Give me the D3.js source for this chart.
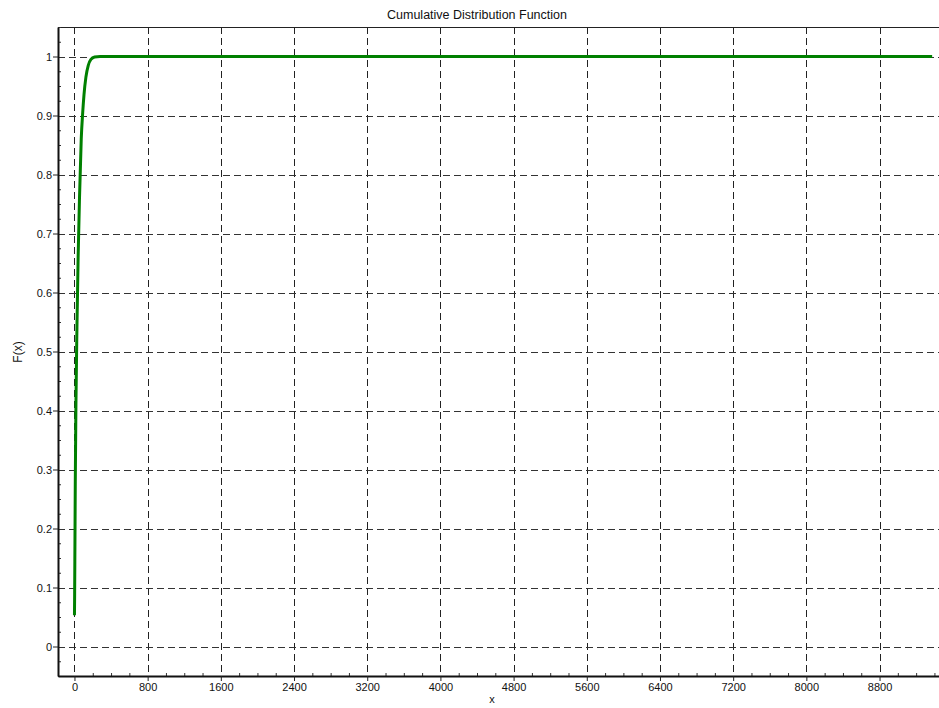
<!DOCTYPE html>
<html>
<head>
<meta charset="utf-8">
<script src="https://cdn.jsdelivr.net/npm/d3@7/dist/d3.min.js"></script>
<style>
  html, body { margin: 0; padding: 0; background: #fff; }
  svg { display: block; }
  text { font-family: "Liberation Sans", Arial, sans-serif; }
</style>
</head>
<body>
<svg id="chart" width="939" height="708"></svg>
<script>
// ---- data ----
const xValues = [0, 2, 5, 9, 16, 27, 40, 55, 74, 90, 104, 125, 151, 180, 220, 280, 1000, 3000, 5000, 7000, 9375];
const fValues = [0.053, 0.09, 0.17, 0.28, 0.41, 0.54, 0.66, 0.76, 0.86, 0.905, 0.935, 0.965, 0.985, 0.995, 0.999, 1, 1, 1, 1, 1, 1];
const xMajorTicks = [0, 800, 1600, 2400, 3200, 4000, 4800, 5600, 6400, 7200, 8000, 8800];
const yMajorTicks = [0, 0.1, 0.2, 0.3, 0.4, 0.5, 0.6, 0.7, 0.8, 0.9, 1];
const xMinorStep = 200;
const yMinorStep = 0.025;
const titleText = "Cumulative Distribution Function";
const xLabel = "x";
const yLabel = "F(x)";

// ---- layout ----
const L = 58, T = 27, R = 939, B = 676;
const svg = d3.select("#chart");
const x = d3.scaleLinear().domain([-180, 9450]).range([L, R]);
const y = d3.scaleLinear().domain([-0.05, 1.05]).range([B, T]);

const xMinor = d3.range(-200, 9450, xMinorStep).filter(v => x(v) >= L && x(v) <= R && xMajorTicks.indexOf(v) < 0);
const yMinor = d3.range(-0.05, 1.0501, yMinorStep).map(v => +v.toFixed(3))
  .filter(v => yMajorTicks.every(m => Math.abs(m - v) > 1e-6));

const crisp = v => Math.round(v) + 0.5;

// grid
const grid = svg.append("g");
grid.selectAll("line.vx").data(xMajorTicks).join("line")
  .attr("x1", d => crisp(x(d))).attr("x2", d => crisp(x(d)))
  .attr("y1", T).attr("y2", B)
  .attr("stroke", "#222").attr("stroke-width", 1).attr("stroke-dasharray", "7,4");
grid.selectAll("line.hy").data(yMajorTicks).join("line")
  .attr("x1", L).attr("x2", R)
  .attr("y1", d => crisp(y(d))).attr("y2", d => crisp(y(d)))
  .attr("stroke", "#333").attr("stroke-width", 1).attr("stroke-dasharray", "7,4");

// top border
svg.append("line").attr("x1", L).attr("x2", R).attr("y1", T + 0.5).attr("y2", T + 0.5)
  .attr("stroke", "#222").attr("stroke-width", 1);

// clip
svg.append("clipPath").attr("id", "clip").append("rect")
  .attr("x", L).attr("y", T).attr("width", R - L).attr("height", B - T);

// curve
const pts = xValues.map((v, i) => [v, fValues[i]]);
svg.append("path").datum(pts)
  .attr("clip-path", "url(#clip)")
  .attr("fill", "none").attr("stroke", "#008000").attr("stroke-width", 3)
  .attr("stroke-linejoin", "round")
  .attr("d", d3.line().x(d => x(d[0])).y(d => y(d[1])).curve(d3.curveMonotoneX));

// axes
function styleAxis(g) {
  g.selectAll("text").attr("fill", "#111").style("font-size", "11px")
    .style("font-family", '"Liberation Sans", Arial, sans-serif');
  g.selectAll(".tick line").attr("stroke", "#222");
}
// minor ticks (inward)
const yMinorAxis = svg.append("g").attr("transform", `translate(${L},0)`)
  .call(d3.axisLeft(y).tickValues(yMinor).tickSize(-3).tickFormat(""));
yMinorAxis.select(".domain").remove();
yMinorAxis.selectAll(".tick line").attr("stroke", "#333");
const xMinorAxis = svg.append("g").attr("transform", `translate(0,${B})`)
  .call(d3.axisBottom(x).tickValues(xMinor).tickSize(-3).tickFormat(""));
xMinorAxis.select(".domain").remove();
xMinorAxis.selectAll(".tick line").attr("stroke", "#333");

// major axes
const yAxis = svg.append("g").attr("transform", `translate(${L},0)`)
  .call(d3.axisLeft(y).tickValues(yMajorTicks).tickSize(5).tickSizeOuter(0).tickPadding(1)
    .tickFormat(d3.format("~g")));
styleAxis(yAxis);
yAxis.select(".domain").attr("stroke", "#111").attr("stroke-width", 2);

const xAxis = svg.append("g").attr("transform", `translate(0,${B})`)
  .call(d3.axisBottom(x).tickValues(xMajorTicks).tickSize(5).tickSizeOuter(0).tickPadding(2)
    .tickFormat(d3.format("d")));
styleAxis(xAxis);
xAxis.select(".domain").attr("stroke", "#111").attr("stroke-width", 2);

// labels
svg.append("text").attr("x", 477).attr("y", 19).attr("text-anchor", "middle")
  .attr("fill", "#111").style("font-size", "12.5px").text(titleText);
svg.append("text").attr("x", 492).attr("y", 703).attr("text-anchor", "middle")
  .attr("fill", "#111").style("font-size", "11px").text(xLabel);
svg.append("text").attr("transform", "translate(22,352) rotate(-90)").attr("text-anchor", "middle")
  .attr("fill", "#111").style("font-size", "12px").text(yLabel);
</script>
</body>
</html>
